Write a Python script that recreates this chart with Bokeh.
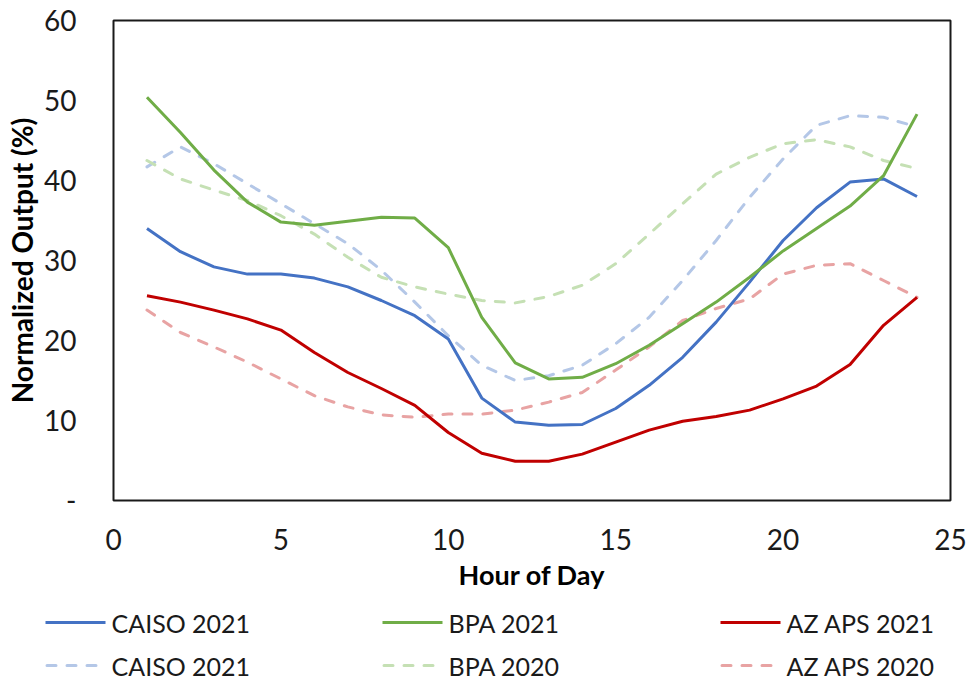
from bokeh.plotting import figure
from bokeh.layouts import column
from bokeh.models import Range1d, FixedTicker, ColumnDataSource
from bokeh.core.properties import value
from bokeh.embed import file_html
from bokeh.resources import INLINE

FONT = "Lato"

# Hourly normalized output (%) by balancing area
hours = list(range(1, 25))
caiso_2021 = [34.0, 31.1, 29.2, 28.3, 28.3, 27.8, 26.7, 25.0, 23.1, 20.2, 12.8, 9.8,
              9.4, 9.5, 11.5, 14.4, 17.9, 22.3, 27.3, 32.5, 36.6, 39.8, 40.2, 38.0]
bpa_2021 = [50.4, 46.0, 41.3, 37.3, 34.8, 34.4, 34.9, 35.4, 35.3, 31.6, 22.9, 17.2,
            15.2, 15.4, 17.1, 19.4, 22.1, 24.8, 27.9, 31.2, 34.0, 36.8, 40.6, 48.3]
azaps_2021 = [25.6, 24.8, 23.8, 22.7, 21.3, 18.5, 16.0, 14.0, 11.9, 8.5, 5.9, 4.9,
              4.9, 5.8, 7.3, 8.8, 9.9, 10.5, 11.3, 12.7, 14.3, 17.0, 21.9, 25.4]
caiso_2020 = [41.7, 44.2, 42.1, 39.6, 37.1, 34.6, 32.1, 28.8, 24.8, 20.6, 16.9, 15.0,
              15.6, 16.9, 19.6, 22.9, 27.5, 32.5, 37.9, 42.7, 46.9, 48.1, 47.9, 46.7]
bpa_2020 = [42.5, 40.2, 38.8, 37.5, 35.6, 33.3, 30.4, 27.9, 26.7, 25.8, 25.0, 24.7,
            25.5, 26.9, 29.6, 33.3, 37.1, 40.8, 42.9, 44.6, 45.1, 44.2, 42.5, 41.5]
azaps_2020 = [23.8, 21.0, 19.2, 17.3, 15.2, 13.1, 11.7, 10.7, 10.4, 10.8, 10.8, 11.3,
              12.3, 13.5, 16.3, 19.2, 22.5, 24.0, 25.2, 28.3, 29.4, 29.6, 27.5, 25.4]

x_ticks = [0, 5, 10, 15, 20, 25]
y_ticks = [0, 10, 20, 30, 40, 50, 60]
y_tick_labels = {0: "-", 10: "10", 20: "20", 30: "30", 40: "40", 50: "50", 60: "60"}

series = [
    ("CAISO 2021", caiso_2021, "#4472C4", "solid"),
    ("BPA 2021", bpa_2021, "#70AD47", "solid"),
    ("AZ APS 2021", azaps_2021, "#C00000", "solid"),
    ("CAISO 2021", caiso_2020, "#B4C7E7", "dashed"),
    ("BPA 2020", bpa_2020, "#C5E0B4", "dashed"),
    ("AZ APS 2020", azaps_2020, "#E8A3A3", "dashed"),
]
DASH = "9 11"

p = figure(width=969, height=600, output_backend="svg", toolbar_location=None,
           x_range=Range1d(0, 25), y_range=Range1d(0, 60),
           min_border_left=113, min_border_right=19, min_border_top=20,
           min_border_bottom=100)
p.frame_align = False
p.xgrid.visible = False
p.ygrid.visible = False
p.outline_line_color = "#1a1a1a"
p.outline_line_width = 2
p.background_fill_color = "white"
p.border_fill_color = "white"

for ax in (p.xaxis, p.yaxis):
    ax.axis_line_color = None
    ax.major_tick_line_color = None
    ax.minor_tick_line_color = None
    ax.major_label_text_font = FONT
    ax.major_label_text_font_size = "28px"
    ax.major_label_text_color = "#1a1a1a"
    ax.axis_label_text_font = FONT
    ax.axis_label_text_font_style = "bold"
    ax.axis_label_text_color = "#000000"

p.xaxis.axis_label_text_font_size = "27px"
p.yaxis.axis_label_text_font_size = "28px"
p.xaxis.ticker = FixedTicker(ticks=x_ticks)
p.yaxis.ticker = FixedTicker(ticks=y_ticks)
p.yaxis.major_label_overrides = y_tick_labels
p.xaxis.axis_label = "Hour of Day"
p.yaxis.axis_label = "Normalized Output (%)"
p.xaxis.major_label_standoff = 22
p.yaxis.major_label_standoff = 31
p.xaxis.axis_label_standoff = 5
p.yaxis.axis_label_standoff = 2

# draw the 2020 (dashed) series first, the 2021 series on top
for i in [3, 4, 5, 0, 1, 2]:
    name, vals, color, style = series[i]
    src = ColumnDataSource(dict(x=hours, y=vals))
    if style == "dashed":
        p.line("x", "y", source=src, line_color=color, line_width=3,
               line_dash=DASH, line_cap="round")
    else:
        p.line("x", "y", source=src, line_color=color, line_width=3,
               line_join="round")

# legend strip, laid out in pixel coordinates
leg = figure(width=969, height=84, output_backend="svg", toolbar_location=None,
             x_range=Range1d(0, 969), y_range=Range1d(84, 0),
             min_border=0, outline_line_color=None)
leg.frame_align = False
leg.axis.visible = False
leg.grid.visible = False
leg.background_fill_color = "white"
leg.border_fill_color = "white"

col_x = [45, 382, 720]
row_y = [22, 65]
sample_len = 60
for i, (name, vals, color, style) in enumerate(series):
    cx = col_x[i % 3]
    ry = row_y[i // 3]
    if style == "dashed":
        leg.line([cx + 1.5, cx + sample_len - 1.5], [ry, ry], line_color=color,
                 line_width=3, line_dash=DASH, line_cap="round")
    else:
        leg.line([cx, cx + sample_len], [ry, ry], line_color=color, line_width=3)
    leg.text([cx + sample_len + 6], [ry], text=[name], text_font=value(FONT),
             text_font_size="25px", text_baseline="middle", text_align="left",
             text_color="#1a1a1a")

layout = column(p, leg, spacing=0)
open("out.html", "w").write(file_html(layout, INLINE))
